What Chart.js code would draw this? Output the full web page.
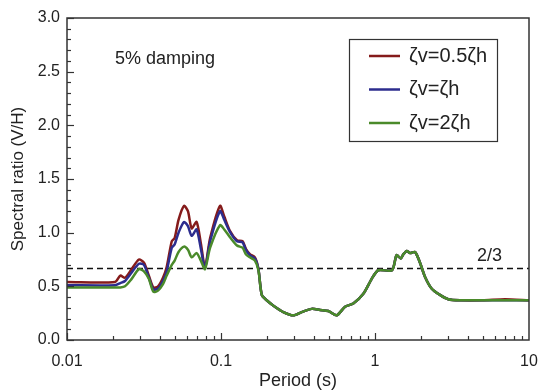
<!DOCTYPE html>
<html>
<head>
<meta charset="utf-8">
<script src="https://cdn.jsdelivr.net/npm/chart.js@4.4.1/dist/chart.umd.min.js"></script>
<style>
  html, body { margin: 0; padding: 0; background: #fff; }
  #wrap { width: 541px; height: 392px; }
</style>
</head>
<body>
<div id="wrap"><canvas id="c" width="541" height="392"></canvas></div>
<script>
// ---- data ----
const periods = [0.01, 0.0205, 0.0222, 0.0238, 0.026, 0.0293, 0.0316, 0.034, 0.0364, 0.039, 0.042, 0.0444,
  0.0479, 0.05, 0.053, 0.0575, 0.061, 0.0645, 0.0694, 0.074, 0.0787, 0.085, 0.0985, 0.105, 0.114, 0.127,
  0.138, 0.145, 0.154, 0.166, 0.175, 0.184, 0.198, 0.219, 0.254, 0.295, 0.334, 0.388, 0.44, 0.498, 0.564,
  0.639, 0.723, 0.84, 0.952, 1.05, 1.29, 1.38, 1.47, 1.53, 1.61, 1.69, 1.82, 1.96, 2.11, 2.33, 2.64, 2.99,
  3.56, 5.0, 7.0, 10];
const ratioHalf = [0.54, 0.54, 0.60, 0.58, 0.65, 0.75, 0.72, 0.60, 0.49, 0.50, 0.58, 0.68,
  0.92, 0.95, 1.12, 1.25, 1.20, 1.04, 1.10, 0.90, 0.68, 0.95, 1.25, 1.15, 1.02, 0.93,
  0.92, 0.85, 0.80, 0.77, 0.66, 0.42, 0.37, 0.32, 0.26, 0.23, 0.26, 0.29, 0.28, 0.27, 0.23,
  0.31, 0.34, 0.43, 0.57, 0.65, 0.65, 0.79, 0.76, 0.80, 0.83, 0.81, 0.82, 0.72, 0.59, 0.48, 0.42, 0.38,
  0.37, 0.37, 0.38, 0.37];
const ratioEqual = [0.51, 0.51, 0.53, 0.55, 0.62, 0.71, 0.70, 0.58, 0.47, 0.48, 0.55, 0.64,
  0.86, 0.89, 1.00, 1.10, 1.06, 0.97, 1.03, 0.85, 0.67, 0.92, 1.20, 1.12, 1.01, 0.92,
  0.91, 0.84, 0.79, 0.76, 0.66, 0.42, 0.37, 0.32, 0.26, 0.23, 0.26, 0.29, 0.28, 0.27, 0.23,
  0.31, 0.34, 0.43, 0.57, 0.65, 0.65, 0.79, 0.76, 0.80, 0.83, 0.81, 0.82, 0.72, 0.59, 0.48, 0.42, 0.38,
  0.37, 0.37, 0.37, 0.37];
const ratioDouble = [0.49, 0.49, 0.49, 0.50, 0.56, 0.66, 0.64, 0.57, 0.45, 0.46, 0.52, 0.60,
  0.70, 0.74, 0.82, 0.87, 0.84, 0.77, 0.81, 0.74, 0.66, 0.86, 1.07, 1.03, 0.96, 0.88,
  0.86, 0.80, 0.77, 0.74, 0.65, 0.42, 0.37, 0.32, 0.26, 0.23, 0.26, 0.29, 0.28, 0.27, 0.23,
  0.31, 0.34, 0.43, 0.57, 0.65, 0.65, 0.79, 0.76, 0.80, 0.83, 0.81, 0.82, 0.72, 0.59, 0.48, 0.42, 0.38,
  0.37, 0.37, 0.37, 0.37];
const seriesLabels = ['ζv=0.5ζh', 'ζv=ζh', 'ζv=2ζh'];
const thresholdValue = 2 / 3;
const thresholdLabel = '2/3';
const xTickValues = [0.01, 0.1, 1, 10];
const xTickLabels = ['0.01', '0.1', '1', '10'];
const annotationText = '5% damping';

// ---- styles ----
const colors = ['#851b1b', '#2c2c8e', '#4a8a2a'];
const FONT = '"Liberation Sans", Arial, Helvetica, sans-serif';
const TEXT = '#222';

function pts(vals) { return periods.map((p, i) => ({ x: p, y: vals[i] })); }

const seriesData = [ratioHalf, ratioEqual, ratioDouble];
const datasets = seriesData.map((vals, i) => ({
  label: seriesLabels[i],
  data: pts(vals),
  borderColor: colors[i],
  backgroundColor: colors[i],
  borderWidth: 2.5,
  pointRadius: 0,
  tension: 0.25,
  fill: false,
  order: 3 - i
}));
datasets.push({
  label: thresholdLabel,
  data: [{ x: xTickValues[0], y: thresholdValue }, { x: xTickValues[xTickValues.length - 1], y: thresholdValue }],
  borderColor: '#111',
  borderWidth: 1.5,
  borderDash: [6, 4],
  pointRadius: 0,
  fill: false,
  order: 10,
  isThreshold: true
});

const decorPlugin = {
  id: 'decor',
  afterDatasetsDraw(chart) {
    const { ctx, chartArea: ca, scales } = chart;
    const xs = scales.x, ys = scales.y;
    ctx.save();
    // frame
    ctx.strokeStyle = '#333';
    ctx.lineWidth = 1.5;
    ctx.strokeRect(ca.left, ca.top, ca.right - ca.left, ca.bottom - ca.top);
    // y inward ticks
    ctx.lineWidth = 1.2;
    for (let k = 0; k <= 30; k++) {
      const v = k / 10;
      const y = Math.round(ys.getPixelForValue(v)) + 0.5;
      const len = (k % 5 === 0) ? 7 : 4;
      ctx.beginPath(); ctx.moveTo(ca.left, y); ctx.lineTo(ca.left + len, y); ctx.stroke();
    }
    // x inward ticks
    for (let d = 0; d < xTickValues.length - 1; d++) {
      const base = xTickValues[d];
      for (let m = 1; m <= 9; m++) {
        const x = Math.round(xs.getPixelForValue(base * m)) + 0.5;
        const len = m === 1 ? 7 : 4;
        ctx.beginPath(); ctx.moveTo(x, ca.bottom); ctx.lineTo(x, ca.bottom - len); ctx.stroke();
      }
    }
    // threshold label
    ctx.fillStyle = TEXT;
    ctx.font = '18px ' + FONT;
    ctx.textAlign = 'right';
    ctx.textBaseline = 'bottom';
    ctx.fillText(thresholdLabel, ca.right - 27, ys.getPixelForValue(thresholdValue) - 3);
    // annotation
    ctx.textAlign = 'left';
    ctx.textBaseline = 'middle';
    ctx.fillText(annotationText, ca.left + 48, ca.top + 41);
    // legend box
    const bx = ca.right - 180, by = ca.top + 21, bw = 148, bh = 102;
    ctx.fillStyle = '#fff';
    ctx.fillRect(bx, by, bw, bh);
    ctx.strokeStyle = '#333';
    ctx.lineWidth = 1.2;
    ctx.strokeRect(bx + 0.5, by + 0.5, bw, bh);
    chart.data.datasets.forEach((ds, i) => {
      if (ds.isThreshold) return;
      const cy = by + 17 + i * 33.5;
      ctx.strokeStyle = ds.borderColor;
      ctx.lineWidth = 2.5;
      ctx.beginPath(); ctx.moveTo(bx + 20, cy); ctx.lineTo(bx + 51, cy); ctx.stroke();
      ctx.fillStyle = TEXT;
      ctx.font = '20px ' + FONT;
      ctx.textAlign = 'left';
      ctx.textBaseline = 'middle';
      ctx.fillText(ds.label, bx + 60, cy);
    });
    ctx.restore();
  }
};

new Chart(document.getElementById('c'), {
  type: 'line',
  data: { datasets },
  options: {
    responsive: false,
    animation: false,
    devicePixelRatio: 1,
    layout: { padding: { top: 18, right: 12, left: 0, bottom: 0 } },
    plugins: { legend: { display: false }, tooltip: { enabled: false } },
    scales: {
      x: {
        type: 'logarithmic',
        min: 0.01, max: 10,
        afterBuildTicks(scale) { scale.ticks = xTickValues.map(v => ({ value: v })); },
        afterFit(scale) { scale.height = 52; scale.paddingLeft = 0; scale.paddingRight = 0; },
        ticks: {
          autoSkip: false, maxRotation: 0, padding: 12,
          color: TEXT, font: { family: FONT, size: 16 },
          callback(v) { const i = xTickValues.indexOf(v); return i >= 0 ? xTickLabels[i] : ''; }
        },
        grid: { display: true, drawOnChartArea: false, drawTicks: false, color: 'rgba(0,0,0,0)' },
        border: { display: false },
        title: { display: true, text: 'Period (s)', color: TEXT, font: { family: FONT, size: 18 }, padding: { top: 0, bottom: 0 } }
      },
      y: {
        type: 'linear',
        min: 0, max: 3,
        afterFit(scale) { scale.width = 67; },
        ticks: {
          stepSize: 0.5, padding: 7, color: TEXT, font: { family: FONT, size: 16 },
          callback(v) { return Number(v).toFixed(1); }
        },
        grid: { display: true, drawOnChartArea: false, drawTicks: false, color: 'rgba(0,0,0,0)' },
        border: { display: false },
        title: { display: true, text: 'Spectral ratio (V/H)', color: TEXT, font: { family: FONT, size: 17 }, padding: { top: 8, bottom: 0 } }
      }
    }
  },
  plugins: [decorPlugin]
});
</script>
</body>
</html>
